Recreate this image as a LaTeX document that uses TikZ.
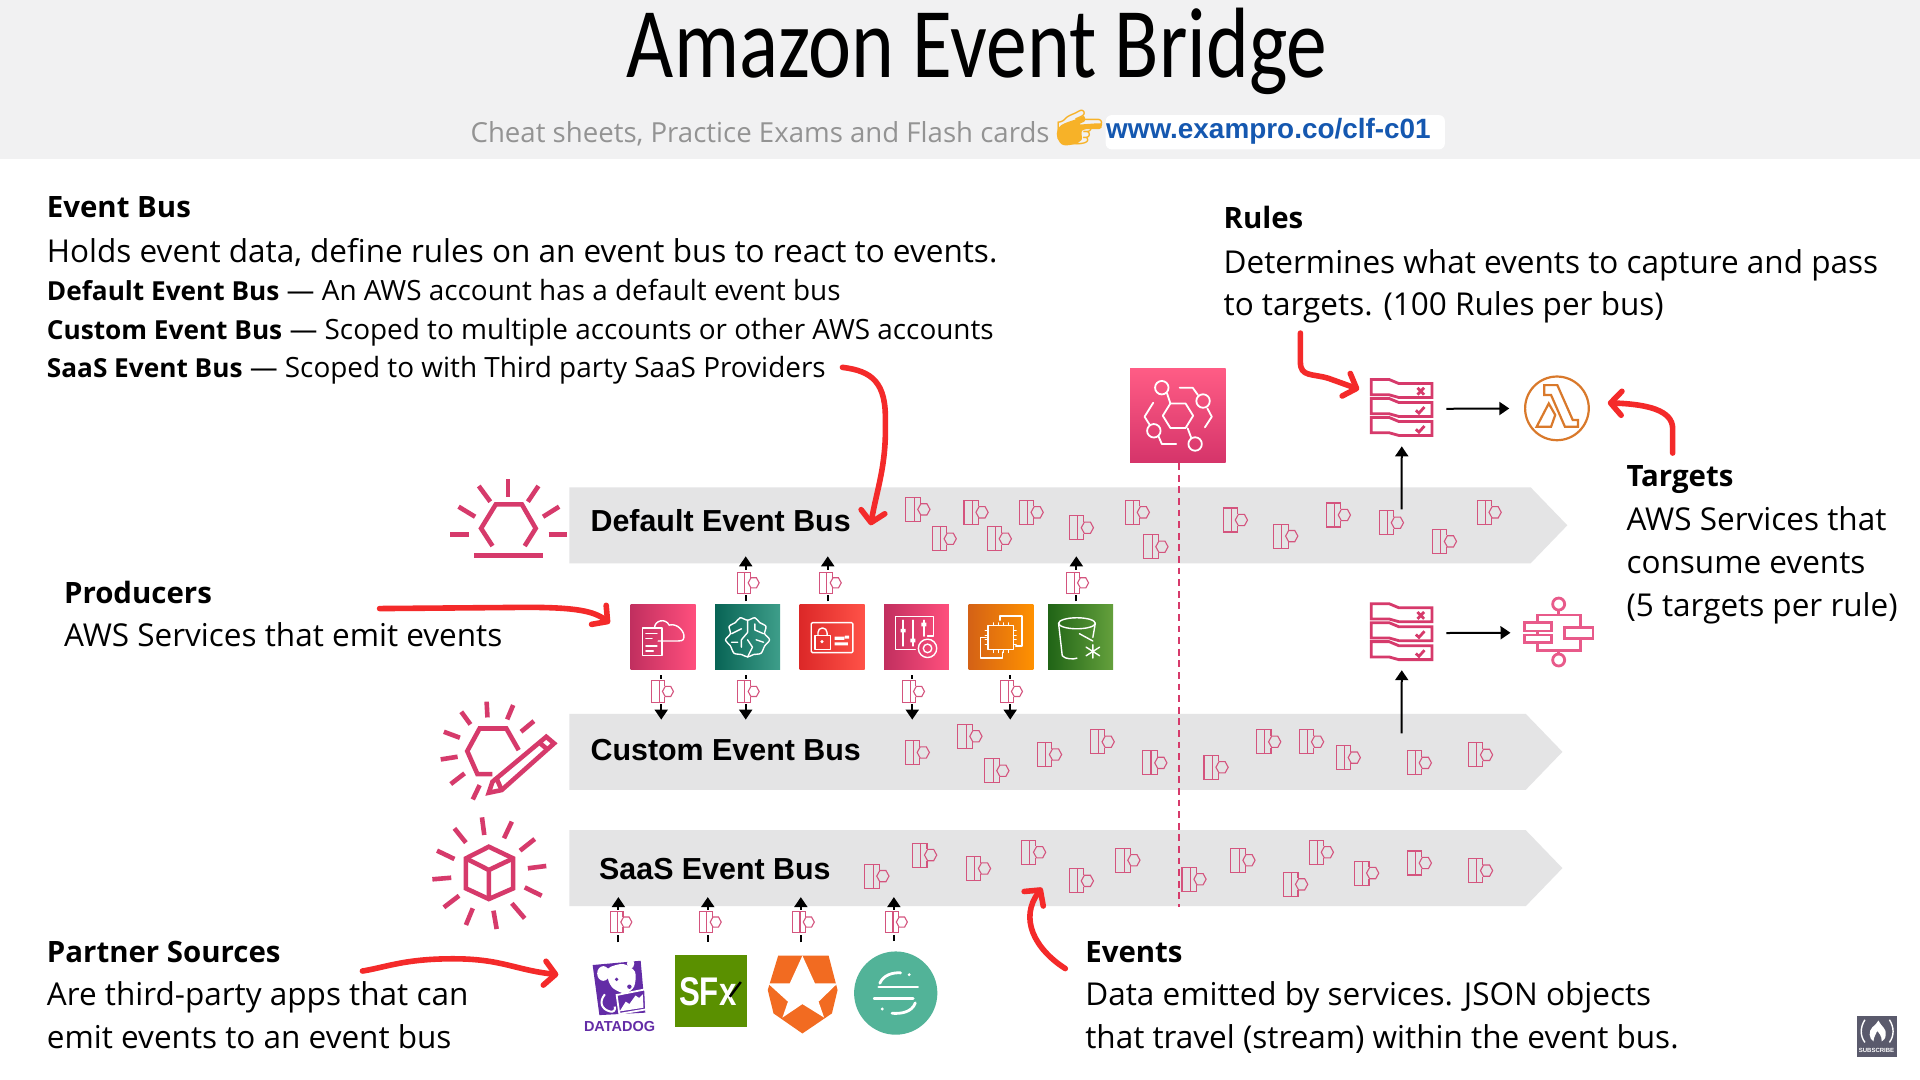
\documentclass[tikz,border=0pt]{standalone}
\usepackage{fontspec}
\usepackage{xcolor}
\usetikzlibrary{arrows.meta,shapes.geometric,shapes.symbols}
\setmainfont{Open Sans}
\newfontfamily\titlefont{Carlito}
\newfontfamily\busfont{Liberation Sans}
\newfontfamily\emojifont{Noto Emoji}
\def\ux{.61224pt}
\newcommand{\busname}[1]{{\fontsize{13.1}{16}\selectfont\bfseries #1}}
\definecolor{aws-pink}{HTML}{D63A6B}
\definecolor{aws-pink-dark}{HTML}{C12F5F}
\definecolor{aws-pink-light}{HTML}{FF4F7D}
\definecolor{evt-pink}{HTML}{D4547E}
\definecolor{bar-gray}{HTML}{E4E4E5}
\definecolor{band-gray}{HTML}{F1F1F2}
\definecolor{hand-red}{HTML}{F42A2A}
\definecolor{hand-gold}{HTML}{F7B228}
\definecolor{link-blue}{HTML}{1558B0}
\definecolor{teal-dark}{HTML}{086455}
\definecolor{teal-light}{HTML}{3E9E8A}
\definecolor{red-dark}{HTML}{DC2828}
\definecolor{red-light}{HTML}{FF5248}
\definecolor{orange-dark}{HTML}{D46216}
\definecolor{orange-light}{HTML}{FF9100}
\definecolor{green-dark}{HTML}{206416}
\definecolor{green-light}{HTML}{64A03C}
\definecolor{dog-purple}{HTML}{632CA6}
\definecolor{sfx-green}{HTML}{5A9000}
\definecolor{auth-orange}{HTML}{F26B21}
\definecolor{seg-teal}{HTML}{52B398}
\definecolor{bridge-top}{HTML}{FF5C85}
\definecolor{bridge-bottom}{HTML}{D5346A}
\definecolor{lambda-orange}{HTML}{D9792B}
\definecolor{steps-pink}{HTML}{E85A8A}
\definecolor{badge-gray}{HTML}{5A5A6C}
\tikzset{
    band/.style = {fill=band-gray, draw=none, inner sep=0pt, minimum width=1568*\ux, minimum height=130*\ux},
    bus-bar/.style = {signal, signal to=east, signal pointer angle=92, fill=bar-gray, inner sep=0pt, minimum height=62*\ux},
    bus-label/.style = {anchor=base west, inner sep=0pt, font=\busfont\bfseries\fontsize{15.2}{18}\selectfont},
    head-text/.style = {anchor=base west, inner sep=0pt, font=\bfseries\fontsize{14.7}{17}\selectfont},
    body-text/.style = {anchor=base west, inner sep=0pt, font=\fontsize{15.75}{18}\selectfont},
    small-text/.style = {anchor=base west, inner sep=0pt, font=\fontsize{13.95}{16}\selectfont},
    icon-box/.style = {rectangle, inner sep=0pt, minimum size=53*\ux},
    icon-art/.style = {draw=white, line width=.7pt, line join=round, line cap=round},
    pink-art/.style = {draw=aws-pink, line width=2.3pt, line join=miter},
    rule-art/.style = {draw=aws-pink, line width=1.4pt, line join=miter},
    steps-art/.style = {draw=steps-pink, line width=1.4pt},
    evt-art/.style = {draw=evt-pink, line width=.55pt},
    flow/.style = {-{Triangle[length=5pt,width=6.5pt]}, line width=1pt, black},
    hand-arrow/.style = {-{Straight Barb[length=5.5pt,width=12pt,round]}, draw=hand-red, line width=2.8pt, line cap=round, line join=round},
    pics/evt-bar/.style = {code={
        \draw[evt-art] (-9.75,-9.8) rectangle (-3,9.8);
        \draw[evt-art] (-3,-9.8) -- (2,-9.8) -- (2,-4.8) (2,4.8) -- (2,9.8) -- (-3,9.8);
        \draw[evt-art] (0,0) -- (2.5,-4.6) -- (7.5,-4.6) -- (10,0) -- (7.5,4.6) -- (2.5,4.6) -- cycle;
    }},
    pics/evt-line/.style = {code={
        \fill[white] (-10.5,-10.2) rectangle (10.5,10.2);
        \pic[scale=.9] {evt-bar};
    }},
    pics/rule-stack/.style = {code={
        \foreach \dy in {0,15.5,31} {
            \draw[rule-art] (-25,-24+\dy) -- (-10.4,-24+\dy) -- (-2.5,-20.7+\dy) -- (24.7,-20.7+\dy) -- (24.7,-9.3+\dy) -- (-2.5,-9.3+\dy) -- (-10.4,-11.5+\dy) -- (-25,-11.5+\dy) -- cycle;
        }
        \draw[rule-art] (12.8,-17.2) -- (18.2,-11.6) (18.2,-17.2) -- (12.8,-11.6);
        \draw[rule-art] (11.5,1.2) -- (14,3.5) -- (18.5,-1.5);
        \draw[rule-art] (11.5,16.7) -- (14,19) -- (18.5,14);
    }},
}
\begin{document}
\begin{tikzpicture}[x=\ux, y=-\ux]
\useasboundingbox (0,0) rectangle (1568,882);
\fill[white] (0,0) rectangle (1568,882);
\node[band] (top-band) at (784,65) {};
\node[anchor=base, inner sep=0pt, xscale=.815, font=\titlefont\fontsize{50}{56}\selectfont] (title) at (798,63) {Amazon Event Bridge};
\node[anchor=base west, inner sep=0pt, text=gray!85, font=\fontsize{13.8}{16}\selectfont] (subtitle) at (384,116) {Cheat sheets, Practice Exams and Flash cards};
\fill[hand-gold] plot[smooth cycle, tension=.6] coordinates {(863,109) (867,102) (879.3,97.2) (885.2,94.7) (886,98.8) (882,101.5) (898.3,100.7) (899.7,102.9) (897.8,105.4) (884.2,106.2) (883.3,114.3) (876.5,117.9) (867,117.9)};
\node[anchor=base west, inner sep=0pt, text=hand-gold, font=\emojifont\fontsize{19}{22}\selectfont] (hand) at (862,115) {👉};
\fill[white, rounded corners=3pt] (903,94) rectangle (1180,122);
\node[anchor=base west, inner sep=0pt, text=link-blue, font=\busfont\bfseries\fontsize{13.95}{16}\selectfont] (link) at (903,113.5) {www.exampro.co/clf-c01};

\node[head-text] (bus-head) at (38,178) {Event Bus};
\node[body-text] (bus-line) at (38,214) {Holds event data, define rules on an event bus to react to events.};
\node[small-text] (bus-default) at (38,245.5) {\busname{Default Event Bus} — An AWS account has a default event bus};
\node[small-text] (bus-custom) at (38,277.5) {\busname{Custom Event Bus} — Scoped to multiple accounts or other AWS accounts};
\node[small-text] (bus-saas) at (38,308.5) {\busname{SaaS Event Bus} — Scoped to with Third party SaaS Providers};

\node[head-text] (rules-head) at (999,187) {Rules};
\node[body-text] (rules-a) at (999,223) {Determines what events to capture and pass};
\node[body-text] (rules-b) at (999,257.5) {to targets. (100 Rules per bus)};

\node[head-text] (targets-head) at (1328,397.5) {Targets};
\node[body-text] (targets-a) at (1328,433) {AWS Services that};
\node[body-text] (targets-b) at (1328,468.5) {consume events};
\node[body-text] (targets-c) at (1328,503.5) {(5 targets per rule)};

\node[head-text] (producers-head) at (52,493) {Producers};
\node[body-text] (producers-a) at (52,528) {AWS Services that emit events};

\node[head-text] (partner-head) at (38,786) {Partner Sources};
\node[body-text] (partner-a) at (38,821.5) {Are third-party apps that can};
\node[body-text] (partner-b) at (38,856.5) {emit events to an event bus};

\node[head-text] (events-head) at (886,786) {Events};
\node[body-text] (events-a) at (886,821.5) {Data emitted by services. JSON objects};
\node[body-text] (events-b) at (886,856.5) {that travel (stream) within the event bus.};

\node[bus-bar, minimum width=815*\ux] (bus-d) at (857.5,429) {};
\node[bus-bar, minimum width=811*\ux] (bus-c) at (855.5,614) {};
\node[bus-bar, minimum width=811*\ux] (bus-s) at (855.5,709) {};
\node[bus-label] (bus-d-label) at (482,434) {Default Event Bus};
\node[bus-label] (bus-c-label) at (482,621) {Custom Event Bus};
\node[bus-label] (bus-s-label) at (489,718.5) {SaaS Event Bus};

\foreach \ex/\ey in {749.5/416,771/440,797/418.4,816/440,842/418.4,883/431,928.7/418.4,943.9/446.5,1008.8/424.7,1049.9/437.8,1092.9/420.6,1136.2/426.9,1179.5/442.1,1216/418.4,
    749/614.5,792/601.3,814/629.4,857/616.2,900/605.8,943/623,993/626.6,1036/605.8,1071/605.8,1101/618.7,1159/623,1209/616.5,
    716/715.5,755/698.3,799/709.3,844/696,883/719.4,921/702.5,975/718,1015/702.5,1058/722.2,1079/696,1116/713,1159/704.8,1209/711}
    \pic at (\ex,\ey) {evt-bar};

\draw[pink-art] (402.2,445.9) -- (392.9,431.5) -- (404.9,411.9) -- (426.2,411.9) -- (437.5,431.5) -- (428.5,445.9);
\draw[pink-art] (387.2,453.8) -- (443.5,453.8);
\foreach \ax/\ay/\bx/\by in {415/391.5/415/406.2,391/396.9/400.4/409.7,439.7/396.9/431.1/409.7,374.5/413.8/388/422,456.6/413.8/443.5/422,367.7/436.4/383.1/436.4,448/436.4/463/436.4}
    \draw[pink-art] (\ax,\ay) -- (\bx,\by);

\draw[pink-art] (423.6,612.6) -- (413.5,594.9) -- (391.7,594.9) -- (381.6,613.4) -- (389.9,632.2) -- (402.2,632.2);
\foreach \ax/\ay/\bx/\by in {397.4/573/398.1/585.9,376.7/581.3/384.2/591.6,419.1/575.8/414.2/587.5,362.5/597.6/375.6/602.5,436/588.9/425.5/597.6,359.9/620.2/373.7/618,368.1/640.3/379.4/631.6,386.1/652.9/391.7/641.2}
    \draw[pink-art] (\ax,\ay) -- (\bx,\by);
\draw[pink-art, fill=white] (446.1,601.7) -- (452.5,607.1) -- (409.7,645.2) -- (399.2,647.4) -- (402.2,638.4) -- cycle;
\draw[pink-art] (404.9,634.3) -- (409.7,645.2) (439.7,605.8) -- (446.1,611.2);

\draw[pink-art] (399.2,691.5) -- (419.1,701) -- (419.1,725.5) -- (399.2,734.2) -- (380.5,725.5) -- (380.5,701) -- cycle;
\draw[pink-art] (380.5,701) -- (399.2,710.5) -- (419.1,701) (399.2,710.5) -- (399.2,734.2);
\foreach \ax/\ay/\bx/\by in {393.6/667.5/395.5/681.9,371.1/676.5/380.5/688.2,418/671/411.6/684.6,436.7/685.2/424.7/694.7,356.9/694.7/371.1/701.5,446.1/707.2/431.1/709.1,353.1/718.1/368.5/716.8,442.4/731.5/428.5/724.7,362.5/741/374.9/731.5,386.1/741.8/380.5/755.4,403/743.7/405.6/758.7,418/737.7/428.5/750}
    \draw[pink-art] (\ax,\ay) -- (\bx,\by);

\node[icon-box, left color=aws-pink-dark, right color=aws-pink-light] (prod-a) at (541.5,520.5) {};
\node[icon-box, left color=teal-dark, right color=teal-light] (prod-b) at (610.5,520.5) {};
\node[icon-box, left color=red-dark, right color=red-light] (prod-c) at (679.5,520.5) {};
\node[icon-box, left color=aws-pink-dark, right color=aws-pink-light] (prod-d) at (748.5,520.5) {};
\node[icon-box, left color=orange-dark, right color=orange-light] (prod-e) at (817.5,520.5) {};
\node[icon-box, left color=green-dark, right color=green-light] (prod-f) at (882.5,520.5) {};

\begin{scope}[shift={(prod-a.center)}]
\draw[icon-art] (-17,-7.5) rectangle (-1,15);
\draw[icon-art] (-7,-7.5) .. controls (-7,-14) and (2,-16) .. (5,-10) .. controls (12,-12) and (18,-4) .. (17,0) .. controls (17,3) and (14,3) .. (12,3) -- (-4,3);
\draw[icon-art] (-14,-3) -- (-5,-3) (-14,1) -- (-9,1) (-14,7) -- (-5,7) (-14,11) -- (-8,11);
\end{scope}
\begin{scope}[shift={(prod-b.center)}]
\draw[icon-art] plot[smooth cycle] coordinates {(0,-14) (-6,-16) (-10,-12) (-15,-9) (-14,-3) (-18,2) (-14,7) (-11,13) (-5,14) (0,16) (5,14) (11,13) (14,7) (18,2) (14,-3) (15,-9) (10,-12) (6,-16)};
\draw[icon-art] (0,-14) -- (0,-4) -- (-5,2) -- (-5,8) (0,2) -- (4,8) -- (0,16) (-13,-3) -- (-5,-7) (13,-3) -- (6,-6) -- (6,-11) (-13,4) -- (-8,4) (13,4) -- (7,2);
\end{scope}
\begin{scope}[shift={(prod-c.center)}]
\draw[icon-art, rounded corners=.6pt] (-17,-12) rectangle (17,12.5);
\draw[icon-art] (-14,-1.5) rectangle (-1.5,10);
\draw[icon-art] (-11.5,-1.5) -- (-11.5,-4) arc[start angle=180, end angle=360, radius=3.7] -- (-4,-1.5);
\fill[white] (-8.2,3.5) circle[radius=1.4];
\fill[white] (2,-.5) rectangle (10,2) (10.5,-1.5) rectangle (14,1) (2,4) rectangle (13,6.5);
\end{scope}
\begin{scope}[shift={(prod-d.center)}]
\draw[icon-art] (9,-1) -- (14,-1) -- (14,-17) -- (-17,-17) -- (-17,10) -- (-1,10);
\draw[icon-art] (-11,-14) -- (-11,7) (-3,-14) -- (-3,7) (6,-14) -- (6,-1);
\fill[white] (-13,-7) rectangle (-9,-4) (-5,1) rectangle (-1,4) (4,-12) rectangle (8,-9);
\draw[icon-art] (9,9) circle[radius=7.5];
\draw[icon-art] (9,9) circle[radius=3.5];
\end{scope}
\begin{scope}[shift={(prod-e.center)}]
\draw[icon-art] (-1,-14) -- (-1,-17.5) -- (17,-17.5) -- (17,7) -- (12,7);
\draw[icon-art] (-12,0) -- (-17,0) -- (-17,17) -- (1,17) -- (1,12);
\draw[icon-art] (-10.5,-9.5) rectangle (10,10);
\foreach \p in {-6,-2,2,6} {
    \draw[icon-art, line width=.4pt] (\p,-12) -- (\p,-9.5) (\p,10) -- (\p,12.5) (-13,\p) -- (-10.5,\p) (10,\p) -- (12.5,\p);
}
\end{scope}
\begin{scope}[shift={(prod-f.center)}]
\draw[icon-art] (-3,-11.5) ellipse[x radius=15, y radius=4.5];
\draw[icon-art] (-18,-11.5) -- (-15,15) .. controls (-13,18) and (-5,18) .. (-3,17) (12,-11.5) -- (10,0);
\draw[icon-art] (-1,-3) -- (10,3);
\draw[icon-art] (10,6) -- (10,17) (4.5,8) -- (15.5,15) (15.5,8) -- (4.5,15);
\end{scope}

\foreach \src/\dx in {prod-b/-1.5,prod-c/-3.5,prod-f/-3.5}
    \draw[flow, shorten <=2.6*\ux, shorten >=-6*\ux] ([xshift=\dx*\ux]\src.north) -- ([xshift=\dx*\ux]\src.north |- bus-d.south);
\foreach \src/\dx in {prod-a/-1.5,prod-b/-1.5,prod-d/-3.5,prod-e/7.5}
    \draw[flow, shorten <=4.3*\ux, shorten >=-5*\ux] ([xshift=\dx*\ux]\src.south) -- ([xshift=\dx*\ux]\src.south |- bus-c.north);
\foreach \px in {611,678,880}
    \pic at (\px,476) {evt-line};
\foreach \px in {541,611,746,826}
    \pic at (\px,564.7) {evt-line};

\node[inner sep=0pt, minimum width=66*\ux, minimum height=64*\ux] (dog-logo) at (505,812) {};
\node[rectangle, fill=sfx-green, inner sep=0pt, minimum width=59*\ux, minimum height=59*\ux] (sfx-logo) at (580.5,809) {};
\node[inner sep=0pt, minimum width=58*\ux, minimum height=64*\ux] (auth-logo) at (655.5,812) {};
\node[circle, fill=seg-teal, inner sep=0pt, minimum size=68*\ux] (seg-logo) at (731.5,811) {};

\fill[dog-purple] (484,788.1) -- (523.2,784.6) -- (527,827) -- (489.5,829) -- cycle;
\fill[white] plot[smooth cycle] coordinates {(496.8,790.8) (509,787.3) (518.6,793.6) (517.8,805.8) (510.4,811.3) (500.9,807.2) (496.8,800.4)};
\fill[white] (492.7,795) ellipse[x radius=5, y radius=6];
\fill[white] (515,787) ellipse[x radius=3, y radius=4];
\fill[dog-purple] (503.6,799.8) circle[radius=1.5] (514,805.8) circle[radius=1.8];
\draw[white, line width=1pt] (494,812) .. controls (489,818) and (491,824) .. (498,826) .. controls (501,827) and (503,825) .. (502,822);
\draw[white, line width=.9pt, fill=dog-purple] (503.6,812.6) -- (526.8,808) -- (527.6,824.3) -- (505.8,828) -- cycle;
\fill[white] (506,826) -- (511,818) -- (514,820) -- (519,813) -- (522,815) -- (525,812) -- (525.5,823) -- cycle;
\node[anchor=base, inner sep=0pt, text=dog-purple, font=\busfont\bfseries\fontsize{7.25}{8}\selectfont] (dog-name) at (506,842.6) {DATADOG};

\node[anchor=center, inner sep=0pt, xscale=.78, text=white, font=\busfont\bfseries\fontsize{20}{22}\selectfont] (sfx-name) at (578,810) {SFx};
\draw[black, line width=1.2pt] (596,814) -- (605,802);

\fill[auth-orange] (635.5,780.5) -- (676.7,780.5) -- (684,808.5) -- (679.4,827.6) -- (655.3,844) -- (631.7,827.6) -- (627,808.5) -- cycle;
\fill[white] (655.3,780.5) -- (665.5,803) -- (684,803) -- (668.5,818) -- (673,831) -- (655.3,820) -- (639,831) -- (643.5,818) -- (627,803) -- (645,803) -- cycle;

\begin{scope}[shift={(seg-logo.center)}]
\draw[white, line width=1.4pt, line cap=round] (-13.9,-5) -- (18,-5) (-17.6,4.6) -- (14.2,4.6);
\draw[white, line width=1.4pt, line cap=round] (-13,-8) .. controls (-10,-15) and (-2,-17) .. (4,-16.5);
\draw[white, line width=1.4pt, line cap=round] (16,8) .. controls (13,16) and (4,17) .. (-3,16.5);
\fill[white] (11,-15) circle[radius=1.3] (-11,13) circle[radius=1.3];
\end{scope}

\foreach \src/\dx/\gap in {dog-logo/0/10,sfx-logo/-2.5/10,auth-logo/-1.5/10,seg-logo/-1.5/8}
    \draw[flow, shorten <=\gap*\ux, shorten >=-7.7*\ux] ([xshift=\dx*\ux]\src.north) -- ([xshift=\dx*\ux]\src.north |- bus-s.south);
\foreach \px in {507,580,656,732}
    \pic at (\px,753) {evt-line};

\node[icon-box, top color=bridge-top, bottom color=bridge-bottom, minimum width=78*\ux, minimum height=77*\ux] (bridge-icon) at (962,339.5) {};
\begin{scope}[shift={(bridge-icon.center)}]
\draw[icon-art, line width=.9pt] (-12.4,0) -- (-6.2,-10) -- (6.2,-10) -- (12.4,0) -- (6.2,10) -- (-6.2,10) -- cycle;
\draw[icon-art, line width=.9pt] (-13.2,-22.9) circle[radius=5.5] (20.5,-12) circle[radius=5.5] (-19.7,12.3) circle[radius=5.5] (14,23.1) circle[radius=5.5];
\draw[icon-art, line width=.9pt] (-9,-18.5) -- (-6.2,-10) (1.4,-22.9) -- (12,-22.9) -- (16.3,-16.9) (24,-6) -- (27.6,.8) -- (22,9.5) (7.9,10.3) -- (10.7,17.7) (-15.8,17) -- (-13.2,23.1) -- (-1.4,23.1) (-20.2,-10.6) -- (-27.3,.8) -- (-23,7.6);
\end{scope}
\draw[aws-pink, line width=1.1pt, dash pattern=on 3.4pt off 2.4pt] ([xshift=1*\ux]bridge-icon.south) -- ([xshift=1*\ux]bridge-icon.south |- bus-s.south);

\node[inner sep=0pt, minimum width=50*\ux, minimum height=48*\ux] (rule-a) at (1144.8,333.9) {};
\node[inner sep=0pt, minimum width=50*\ux, minimum height=48*\ux] (rule-b) at (1144.8,517) {};
\pic at (rule-a) {rule-stack};
\pic at (rule-b) {rule-stack};
\node[circle, draw=lambda-orange, line width=1.1pt, inner sep=0pt, minimum size=52*\ux] (lambda-icon) at (1271.5,333.5) {};
\begin{scope}[shift={(lambda-icon.center)}]
\draw[lambda-orange, line width=1.1pt, line join=miter] (-10.4,-19) -- (.3,-19) -- (12.9,9.5) -- (17.2,9.5) -- (17.2,15) -- (6.5,15) -- (-4.8,-10.9) -- (-10.4,-10.9) -- cycle;
\draw[lambda-orange, line width=1.1pt, line join=miter] (-6.7,-4) -- (-16.6,15) -- (-4.8,15) -- (-1.4,5.4) -- cycle;
\end{scope}
\node[inner sep=0pt, minimum width=56*\ux, minimum height=56*\ux] (steps-icon) at (1272.9,516.7) {};
\begin{scope}[shift={(steps-icon.center)}]
\draw[steps-art] (-17.6,-14.4) rectangle (17.6,14.3);
\draw[steps-art] (0,-18.5) -- (0,-14.4) (0,14.3) -- (0,17.4);
\draw[steps-art] (0,-23.4) circle[radius=4.9] (0,22.3) circle[radius=4.9];
\draw[steps-art, fill=white] (-28,-8.2) rectangle (-6,-1.4);
\draw[steps-art, fill=white] (-28,1.9) rectangle (-6,7.9);
\draw[steps-art, fill=white] (5,-4.4) rectangle (28,5);
\end{scope}

\coordinate (rule-a-evt) at (1144.6,416);
\coordinate (rule-b-evt) at (1144.6,599);
\draw[flow, shorten >=6.3*\ux] (rule-a-evt) -- (rule-a.south);
\draw[flow, shorten >=6*\ux] (rule-b-evt) -- (rule-b.south);
\draw[flow, shorten <=11*\ux, shorten >=12*\ux] (rule-a.east) -- (lambda-icon.west);
\draw[flow, shorten <=11*\ux, shorten >=11*\ux] (rule-b.east) -- (steps-icon.west);

\coordinate (saas-from) at (688,300);
\coordinate (saas-to) at (711,429);
\coordinate (rules-from) at (1062,272);
\coordinate (rules-to) at (1110,318);
\coordinate (targets-from) at (1366,370);
\coordinate (targets-to) at (1313,329);
\coordinate (producers-from) at (310,497);
\coordinate (producers-to) at (498,509);
\coordinate (partner-from) at (296,793);
\coordinate (partner-to) at (456,796);
\coordinate (events-from) at (870,791);
\coordinate (events-to) at (851,725);
\draw[hand-arrow] (saas-from) .. controls (712,303) and (724,312) .. (723,345) .. controls (724,380) and (716,400) .. (saas-to);
\draw[hand-arrow] (rules-from) -- (1062,296) .. controls (1062,308) and (1072,305) .. (1085,309) -- (rules-to);
\draw[hand-arrow] (targets-from) -- (1366,350) .. controls (1366,335) and (1345,330) .. (targets-to);
\draw[hand-arrow] (producers-from) -- (430,496) .. controls (470,496) and (485,499) .. (producers-to);
\draw[hand-arrow] (partner-from) .. controls (315,790) and (330,783) .. (370,783) .. controls (410,783) and (420,792) .. (partner-to);
\draw[hand-arrow] (events-from) .. controls (845,775) and (832,750) .. (events-to);

\node[rectangle, fill=badge-gray, inner sep=0pt, minimum width=33*\ux, minimum height=33*\ux, anchor=north west] (sub-badge) at (1516,829.6) {};
\draw[white, line width=.7pt] (1523,832.8) .. controls (1519,839) and (1519,846) .. (1523,851.3) (1543,832.8) .. controls (1547,839) and (1547,846) .. (1543,851.3);
\fill[white] (1534,833.4) .. controls (1536,838) and (1541,840) .. (1540,845) .. controls (1540,848) and (1538,850) .. (1536.7,850.5) .. controls (1537,846) and (1534,843) .. (1533,842) .. controls (1532,845) and (1530,847) .. (1530,850.5) .. controls (1526,848) and (1526,842) .. (1529,839) .. controls (1531,837) and (1533,836) .. (1534,833.4);
\node[anchor=base, inner sep=0pt, text=white, font=\busfont\bfseries\fontsize{3}{3}\selectfont] (sub-text) at (1532.5,859.7) {SUBSCRIBE};
\end{tikzpicture}
\end{document}
